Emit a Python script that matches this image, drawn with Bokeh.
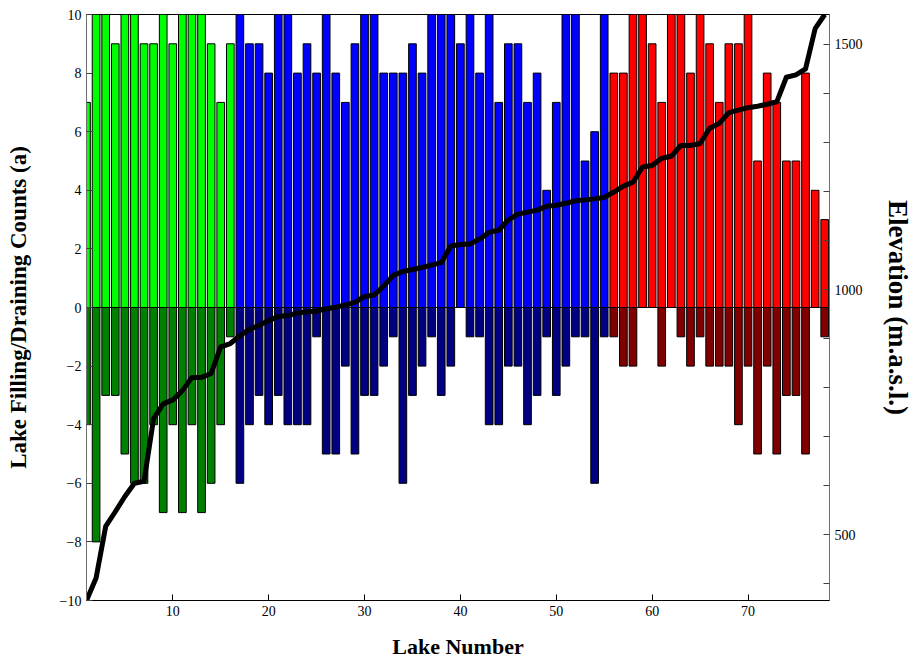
from bokeh.plotting import figure
from bokeh.models import Range1d, LinearAxis, FixedTicker, ColumnDataSource
from bokeh.embed import file_html
from bokeh.resources import INLINE

# ---- data ----
lake = list(range(1, 79))
filling = [7, 10, 10, 9, 10, 10, 9, 9, 10, 9, 10, 10, 10, 9, 7, 9,
           10, 9, 9, 8, 10, 10, 8, 9, 8, 10, 8,
           7, 9, 10, 10, 8, 8, 8, 9, 8, 10, 10, 10, 9, 10, 8, 10, 7, 9, 9, 7, 8, 4, 7, 10, 10, 5,
           6, 10, 8, 8, 10, 10, 9, 7, 10, 10, 8, 10, 9, 7, 9, 9, 10, 5, 8, 7, 5, 5, 8, 4, 3]
draining = [4, 8, 3, 3, 5, 6, 6, 4, 7, 4, 7, 4, 7, 6, 4, 1,
            6, 4, 3, 4, 3, 4, 4, 4, 1, 5, 5,
            2, 5, 3, 3, 2, 1, 6, 3, 2, 1, 3, 2, 0, 1, 1, 4, 4, 2, 2, 4, 3, 1, 3, 2, 1, 1,
            6, 1, 1, 2, 2, 0, 0, 2, 0, 1, 2, 1, 2, 2, 2, 4, 2, 5, 2, 5, 3, 3, 5, 0, 1]
elevation = [366, 412, 517, 547, 578, 605, 609, 737, 767, 775, 794, 821, 821, 829, 883, 890,
             906, 919, 927, 937, 945, 947, 952, 955, 956, 961, 964, 969, 974, 986, 989, 1007,
             1029, 1037, 1041, 1045, 1050, 1055, 1089, 1092, 1093, 1103, 1117, 1121, 1142, 1154,
             1158, 1162, 1170, 1172, 1176, 1181, 1183, 1185, 1188, 1199, 1211, 1219, 1250, 1253,
             1268, 1272, 1294, 1294, 1298, 1329, 1339, 1361, 1366, 1371, 1374, 1378, 1383, 1433,
             1438, 1450, 1532, 1561]
group = ["low"] * 16 + ["mid"] * 39 + ["high"] * 23
x_ticks = [10, 20, 30, 40, 50, 60, 70]
y_ticks = [-10, -8, -6, -4, -2, 0, 2, 4, 6, 8, 10]
elev_ticks = [400, 500, 600, 700, 800, 900, 1000, 1100, 1200, 1300, 1400, 1500]
elev_labels = [500, 1000, 1500]

# ---- styles ----
up_color = {"low": "#00FF00", "mid": "#0000FF", "high": "#FF0000"}
down_color = {"low": "#008000", "mid": "#000080", "high": "#800000"}
FONT = "Liberation Serif"

src = ColumnDataSource(dict(
    lake=lake,
    up=filling,
    down=[-d for d in draining],
    elev=elevation,
    cu=[up_color[g] for g in group],
    cd=[down_color[g] for g in group],
))

p = figure(width=915, height=661, output_backend="svg", toolbar_location=None,
           x_range=Range1d(1, 78.5), y_range=Range1d(-10, 10),
           min_border_left=86, min_border_right=84, min_border_top=14, min_border_bottom=61)
p.extra_y_ranges = {"elev": Range1d(min(elevation), max(elevation))}

p.xgrid.visible = False
p.ygrid.visible = False
p.outline_line_color = "black"
p.outline_line_width = 1
p.background_fill_color = "white"
p.border_fill_color = "white"

p.vbar(x="lake", top="up", bottom=0, width=0.8, source=src,
       fill_color="cu", line_color="black", line_width=1)
p.vbar(x="lake", top=0, bottom="down", width=0.8, source=src,
       fill_color="cd", line_color="black", line_width=1)
p.hspan(y=0, line_color="black", line_width=1)
p.line(x="lake", y="elev", source=src, y_range_name="elev",
       line_color="black", line_width=5, line_join="round")


def style_axis(ax, ticks, overrides, label, label_size, label_standoff):
    ax.ticker = FixedTicker(ticks=ticks)
    ax.major_label_overrides = overrides
    ax.minor_tick_line_color = None
    ax.major_tick_in = 6
    ax.major_tick_out = 0
    ax.major_label_standoff = 5
    ax.major_label_text_font = FONT
    ax.major_label_text_font_size = "14px"
    ax.major_label_text_color = "black"
    ax.axis_label = label
    ax.axis_label_text_font = FONT
    ax.axis_label_text_font_size = label_size
    ax.axis_label_text_font_style = "bold"
    ax.axis_label_text_color = "black"
    ax.axis_label_standoff = label_standoff


xa = p.xaxis[0]
style_axis(xa, x_ticks, {}, "Lake Number", "22px", 15)
xa.axis_line_color = "black"
xa.major_tick_line_color = "black"

ya = p.yaxis[0]
style_axis(ya, y_ticks, {t: (str(t).replace("-", "\u2212")) for t in y_ticks},
           "Lake Filling/Draining Counts (a)", "23px", 26)
ya.axis_line_color = "#707070"
ya.major_tick_line_color = "#404040"

ra = LinearAxis(y_range_name="elev")
style_axis(ra, elev_ticks,
           {t: (str(t) if t in elev_labels else "") for t in elev_ticks},
           "Elevation (m.a.s.l.)", "27px", 17)
ra.axis_line_color = "#707070"
ra.major_tick_line_color = "#404040"
p.add_layout(ra, "right")

open("out.html", "w").write(file_html(p, INLINE))
